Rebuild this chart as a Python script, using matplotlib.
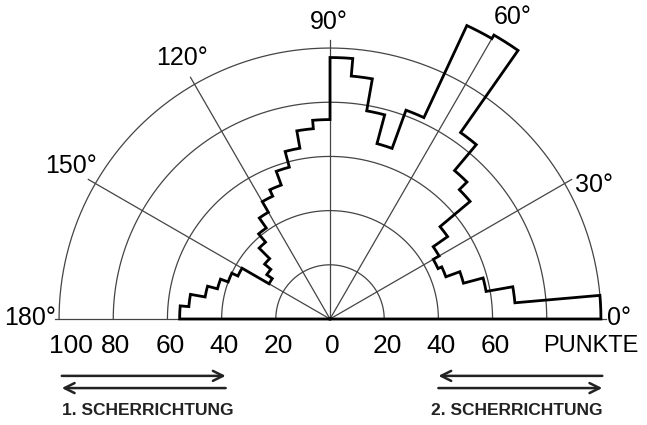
import numpy as np
import matplotlib
matplotlib.use('Agg')
import matplotlib.pyplot as plt

plt.rcParams['font.family'] = ['Liberation Sans', 'DejaVu Sans']

# ── Rose diagram data: 5° classes from 0° to 180°, value in points ─────────
BIN_WIDTH = 5
BIN_STARTS = list(range(0, 180, BIN_WIDTH))
POINTS = [
    100, 68.5, 58.5, 51, 45.5, 44,        # 0 - 30
    46.5, 53, 67.5, 71.5, 84, 121,        # 30 - 60
    119.5, 82, 67, 78, 90, 96.5,          # 60 - 90
    73.6, 70.5, 64, 58, 52.6, 50,         # 90 - 120
    45.5, 41, 37, 31.5, 28.5, 26,         # 120 - 150
    37.5, 40, 43, 46.8, 52.3, 55.5,       # 150 - 180
]

RINGS = [20, 40, 60, 80, 100]
RAY_ANGLES = [0, 30, 60, 90, 120, 150, 180]
ANGLE_LABELS = ['0°', '30°', '60°', '90°', '120°', '150°', '180°']
SCALE_LABELS = ['100', '80', '60', '40', '20', '0', '20', '40', '60']
SCALE_POS = [-100, -80, -60, -40, -20, 0, 20, 40, 60]
UNIT_LABEL = 'PUNKTE'
DIR_LABELS = ['1. SCHERRICHTUNG', '2. SCHERRICHTUNG']

GRID = '#444444'

fig = plt.figure(figsize=(6.47, 4.25), dpi=100)
ax = fig.add_axes([0, 0, 1, 1])
ax.set_xlim(-121.8, 117.0)
ax.set_ylim(-39.1, 117.7)
ax.set_aspect('equal')
ax.axis('off')

# rings
t = np.linspace(0, np.pi, 400)
for r in RINGS:
    ax.plot(r * np.cos(t), r * np.sin(t), color=GRID, lw=0.9, zorder=1)

# rays (the 60° ray runs up between the two long classes)
vals = np.array(POINTS)
for a in RAY_ANGLES:
    if a in (0, 180):
        continue
    i = a // BIN_WIDTH
    length = max(103, min(vals[i - 1], vals[i]))
    th = np.radians(a)
    ax.plot([0, length * np.cos(th)], [0, length * np.sin(th)],
            color=GRID, lw=0.9, zorder=1)
ax.plot([-101.5, 102], [0, 0], color=GRID, lw=0.9, zorder=1)

# step outline of the rose
xs, ys = [0.0], [0.0]
for start, v in zip(BIN_STARTS, POINTS):
    th = np.radians(np.linspace(start, start + BIN_WIDTH, 12))
    xs.extend(v * np.cos(th))
    ys.extend(v * np.sin(th))
xs.append(0.0)
ys.append(0.0)
ax.plot(xs, ys, color='black', lw=2.0, solid_joinstyle='miter', zorder=3)

# angle labels
label_xy = {
    0: (102.3, 0.3), 30: (97.5, 49.5), 60: (67.5, 111.5), 90: (-0.5, 109.5),
    120: (-54.5, 96.5), 150: (-95.5, 56.5), 180: (-101.3, 0.3),
}
for a, lab in zip(RAY_ANGLES, ANGLE_LABELS):
    x, y = label_xy[a]
    ha = 'left' if a == 0 else ('right' if a == 180 else 'center')
    ax.text(x, y, lab, fontsize=18, ha=ha, va='center', zorder=4)

# scale along the base line
label_shift = {-100: 4.5, -80: 1.0}
for p, lab in zip(SCALE_POS, SCALE_LABELS):
    ax.text(p + label_shift.get(p, 1.0), -9.8, lab, fontsize=19,
            ha='center', va='center')
ax.text(96.3, -9.8, UNIT_LABEL, fontsize=17, ha='center', va='center')

# shear direction arrows
arrow = dict(arrowstyle='->', lw=1.8, color='#222222',
             mutation_scale=18, shrinkA=0, shrinkB=0)
y1, y2 = -21.0, -25.5
ax.annotate('', xy=(-38.5, y1), xytext=(-99, y1), arrowprops=arrow)
ax.annotate('', xy=(-99, y2), xytext=(-38.5, y2), arrowprops=arrow)
ax.annotate('', xy=(40, y1), xytext=(100.5, y1), arrowprops=arrow)
ax.annotate('', xy=(100.5, y2), xytext=(40, y2), arrowprops=arrow)

ax.text(-99, -33.6, DIR_LABELS[0], fontsize=12.5, fontweight='bold',
        ha='left', va='center', color='#222222')
ax.text(100.5, -33.6, DIR_LABELS[1], fontsize=12.5, fontweight='bold',
        ha='right', va='center', color='#222222')

fig.savefig('out.png', dpi=100, facecolor='white')
